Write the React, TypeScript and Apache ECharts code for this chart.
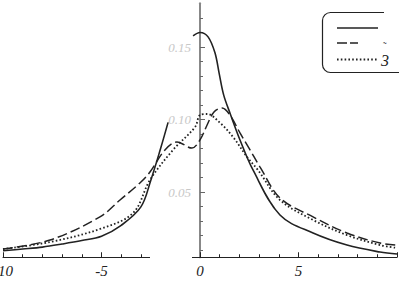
import React, { useEffect, useRef } from "react";
import * as echarts from "echarts";

const solidLeft: [number, number][] = [
  [-10, 0.0095], [-9, 0.0107], [-8, 0.012], [-7, 0.0141], [-6, 0.0165],
  [-5, 0.0195], [-4, 0.027], [-3, 0.0397], [-2.5, 0.058], [-2, 0.08], [-1.62, 0.098],
];
const solidRight: [number, number][] = [
  [-0.35, 0.1576], [0, 0.16], [0.41, 0.157], [0.76, 0.146], [0.97, 0.132], [1.2, 0.117],
  [1.52, 0.1045], [2.03, 0.0859], [2.69, 0.0652], [4.06, 0.0341], [5.74, 0.0217],
  [7.46, 0.0134], [9.14, 0.0086], [10, 0.0072],
];
const dashedCurve: [number, number][] = [
  [-10, 0.0107], [-7.61, 0.0169], [-5.08, 0.0328], [-4.06, 0.0445], [-3.05, 0.0562],
  [-2.54, 0.0638], [-1.78, 0.079], [-1.17, 0.0845], [-0.41, 0.0803], [0, 0.0859],
  [0.36, 0.0962], [0.71, 0.1052], [1.12, 0.1079], [1.52, 0.1031], [2.03, 0.0907],
  [2.54, 0.079], [3.05, 0.0672], [4.06, 0.0459], [5.74, 0.0328], [7.46, 0.0217],
  [9.14, 0.0148], [10, 0.0134],
];
const dottedCurve: [number, number][] = [
  [-10, 0.0107], [-7.61, 0.0155], [-5.08, 0.0245], [-3.4, 0.0355], [-2.54, 0.0583],
  [-1.37, 0.079], [-0.25, 0.0948], [0, 0.1031], [0.36, 0.1038], [1.02, 0.0976],
  [1.68, 0.0879], [2.39, 0.0741], [2.94, 0.0652], [4.06, 0.0445], [5.74, 0.0307],
  [7.46, 0.0203], [9.14, 0.0134], [10, 0.0114],
];
const yMajorTicks = [0.05, 0.1, 0.15];
const yMinorTicks = [0.01, 0.02, 0.03, 0.04, 0.06, 0.07, 0.08, 0.09, 0.11, 0.12, 0.13, 0.14, 0.16, 0.17];
const xLabelsShown = ["-10", "-5", "0", "5"];
const legendLabel = "3";
const legendAccent = "\u02dc";

const INK = "#222";
const FONT = "'Liberation Serif', 'DejaVu Serif', serif";

export default function App() {
  const ref = useRef<HTMLDivElement>(null);
  useEffect(() => {
    document.body.style.margin = "0";
    const chart = echarts.init(ref.current!, undefined, { renderer: "svg" });
    const lineBase = { type: "line", showSymbol: false, smooth: 0.35, animation: false, silent: true };
    chart.setOption({
      animation: false,
      grid: { left: 3, right: 2, top: 3.5, bottom: 23.75, outerBoundsMode: "none", containLabel: false },
      xAxis: {
        type: "value",
        min: -10,
        max: 10,
        interval: 5,
        axisLine: { onZero: false, lineStyle: { color: INK, width: 1 } },
        axisTick: { inside: true, length: 5, lineStyle: { color: INK } },
        minorTick: { show: true, splitNumber: 5, length: 3, lineStyle: { color: INK } },
        splitLine: { show: false },
        axisLabel: {
          color: INK,
          fontFamily: FONT,
          fontStyle: "italic",
          fontSize: 15,
          margin: 6,
          hideOverlap: false,
          showMinLabel: true,
          formatter: (v: number) => (xLabelsShown.includes(String(v)) ? String(v) : ""),
        },
      },
      yAxis: [
        {
          type: "value",
          min: 0.005,
          max: 0.18,
          offset: -197,
          axisLine: { show: true, onZero: false, lineStyle: { color: "#888", width: 2 } },
          axisTick: { show: true, inside: true, length: 5, customValues: yMajorTicks, lineStyle: { color: "#666" } },
          axisLabel: {
            show: true,
            customValues: yMajorTicks,
            formatter: (v: number) => v.toFixed(2),
            color: "#c8c8c8",
            fontFamily: FONT,
            fontStyle: "italic",
            fontSize: 13,
            margin: 9,
          },
          splitLine: { show: false },
        },
        {
          type: "value",
          min: 0.005,
          max: 0.18,
          offset: -197,
          position: "left",
          axisLine: { show: true, onZero: false, lineStyle: { color: "#888", width: 2 } },
          axisTick: { show: true, inside: true, length: 3, customValues: yMinorTicks, lineStyle: { color: "#666" } },
          axisLabel: { show: false },
          splitLine: { show: false },
        },
      ],
      series: [
        { ...lineBase, name: "solidL", data: solidLeft, lineStyle: { color: INK, width: 1.6, type: "solid" } },
        { ...lineBase, name: "solidR", data: solidRight, lineStyle: { color: INK, width: 1.6, type: "solid" } },
        { ...lineBase, name: "dashed", data: dashedCurve, lineStyle: { color: INK, width: 1.5, type: [10, 4] } },
        { ...lineBase, name: "dotted", data: dottedCurve, lineStyle: { color: INK, width: 1.8, type: [1.6, 2.2] } },
      ],
      graphic: [
        { type: "rect", z: 100, shape: { x: 150, y: 254, width: 42, height: 7 }, style: { fill: "#fff" } },
        {
          type: "rect",
          z: 100,
          shape: { x: 322.5, y: 12.5, width: 100, height: 60, r: 8 },
          style: { fill: "#fff", stroke: INK, lineWidth: 1.2 },
        },
        { type: "rect", z: 101, shape: { x: 384, y: 10, width: 20, height: 5 }, style: { fill: "#fff" } },
        { type: "line", z: 102, shape: { x1: 337, y1: 28, x2: 378, y2: 28 }, style: { stroke: INK, lineWidth: 1.6 } },
        { type: "line", z: 102, shape: { x1: 337, y1: 43, x2: 358, y2: 43 }, style: { stroke: INK, lineWidth: 1.5, lineDash: [10, 3] } },
        { type: "line", z: 102, shape: { x1: 337, y1: 59.5, x2: 377, y2: 59.5 }, style: { stroke: INK, lineWidth: 1.8, lineDash: [1.6, 2.2] } },
        {
          type: "text",
          z: 102,
          x: 381,
          y: 52,
          style: { text: legendLabel, fill: INK, font: `italic 16px ${FONT}` },
        },
        {
          type: "text",
          z: 102,
          x: 383,
          y: 40,
          style: { text: legendAccent, fill: INK, font: `11px ${FONT}` },
        },
      ],
    });
    return () => chart.dispose();
  }, []);
  return <div ref={ref} style={{ width: 399, height: 281 }} />;
}
